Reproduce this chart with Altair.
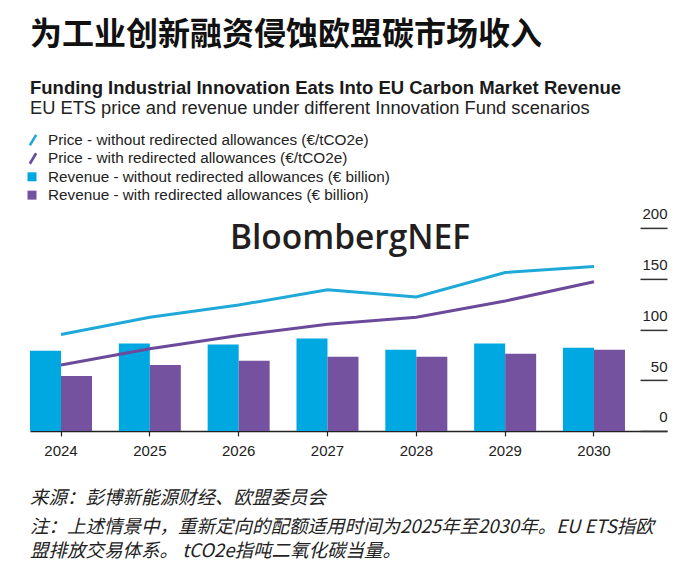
import altair as alt
import pandas as pd

years = ["2024", "2025", "2026", "2027", "2028", "2029", "2030"]
price_without = [95, 112, 124, 139, 132, 156, 162]
price_with = [65, 81, 94, 105, 112, 128, 147]
revenue_without = [79, 86, 85, 91, 80, 86, 82]
revenue_with = [54, 65, 69, 73, 73, 76, 80]

series_names = [
    "Price - without redirected allowances (€/tCO2e)",
    "Price - with redirected allowances (€/tCO2e)",
    "Revenue - without redirected allowances (€ billion)",
    "Revenue - with redirected allowances (€ billion)",
]
series_kinds = ["price", "price", "revenue", "revenue"]
series_colors = ["#1fa9d8", "#6b4a9b", "#00a8e1", "#7452a0"]
y_ticks = [0, 50, 100, 150, 200]

title_zh = "为工业创新融资侵蚀欧盟碳市场收入"
title_en = "Funding Industrial Innovation Eats Into EU Carbon Market Revenue"
subtitle_en = "EU ETS price and revenue under different Innovation Fund scenarios"
source_text = "来源：彭博新能源财经、欧盟委员会"
note_line1 = "注：上述情景中，重新定向的配额适用时间为2025年至2030年。EU ETS指欧"
note_line2 = "盟排放交易体系。 tCO2e指吨二氧化碳当量。"
logo_text = "BloombergNEF"

EN = "Liberation Sans"
ZH = "Noto Sans CJK SC"

rows = []
for name, kind, vals in zip(series_names, series_kinds,
                            [price_without, price_with, revenue_without, revenue_with]):
    for y, v in zip(years, vals):
        rows.append({"year": y, "series": name, "kind": kind, "value": v})
df = pd.DataFrame(rows)

color_scale = alt.Scale(domain=series_names, range=series_colors)
W, H = 637, 203

x_enc = alt.X(
    "year:N",
    sort=years,
    scale=alt.Scale(paddingInner=0.302, paddingOuter=0.2365, align=0),
    axis=alt.Axis(
        title=None, labelAngle=0, labelFont=EN, labelFontSize=15, labelColor="#222222",
        labelPadding=8, tickSize=5, tickColor="#222222", tickWidth=1.2,
        domainColor="#222222", domainWidth=1.5,
    ),
)
y_enc = alt.Y(
    "value:Q",
    scale=alt.Scale(domain=[0, 200], nice=False),
    axis=alt.Axis(
        title=None, orient="right", offset=-27, tickSize=27, values=y_ticks,
        domain=False, grid=False, labelAlign="right", labelBaseline="alphabetic",
        labelOffset=-9, labelPadding=0, labelFont=EN, labelFontSize=15,
        labelColor="#222222", tickColor="#333333", tickWidth=1.5, labelFlush=False,
    ),
)

base = alt.Chart(df)
bars = base.transform_filter(alt.datum.kind == "revenue").mark_bar(size=31).encode(
    x=x_enc,
    xOffset=alt.XOffset("series:N", sort=series_names[2:],
                        scale=alt.Scale(paddingInner=0, paddingOuter=0)),
    y=y_enc,
    color=alt.Color("series:N", scale=color_scale, legend=None),
)
lines = base.transform_filter(alt.datum.kind == "price").mark_line(strokeWidth=3).encode(
    x=x_enc,
    y=y_enc,
    color=alt.Color("series:N", scale=color_scale, legend=None),
)
logo = alt.Chart(pd.DataFrame({"t": [logo_text]})).mark_text(
    font="Open Sans", fontSize=33.5, fontWeight=600, color="#231f20",
    align="center", baseline="alphabetic",
).encode(text="t:N", x=alt.value(320), y=alt.value(21))

main = alt.layer(bars, lines, logo).properties(width=W, height=H)

# legend panel
leg_df = pd.DataFrame({"label": series_names, "kind": series_kinds, "color": series_colors})
leg_y = alt.Y("label:N", sort=series_names, axis=None,
              scale=alt.Scale(type="point", padding=0.5))
leg_base = alt.Chart(leg_df)
leg_slash = leg_base.transform_filter(alt.datum.kind == "price").mark_point(
    shape="M-0.6,1L0.6,-1", size=110, strokeWidth=2.6, filled=False, opacity=1,
).encode(y=leg_y, x=alt.value(3), stroke=alt.Stroke("color:N", scale=None))
leg_sq = leg_base.transform_filter(alt.datum.kind == "revenue").mark_point(
    shape="square", size=81, filled=True, opacity=1,
).encode(y=leg_y, x=alt.value(2), fill=alt.Fill("color:N", scale=None))
leg_text = leg_base.mark_text(
    align="left", baseline="middle", font=EN, fontSize=15.3, color="#222222",
).encode(y=leg_y, x=alt.value(18), text="label:N")
legend_panel = alt.layer(leg_slash, leg_sq, leg_text).properties(
    width=W, height=73.3,
    title=alt.Title(
        text=title_en, subtitle=subtitle_en, anchor="start", frame="group", font=EN,
        fontSize=18.5, fontWeight="bold", color="#1a1a1a", subtitleFont=EN,
        subtitleFontSize=18.3, subtitleColor="#222222", subtitlePadding=3, offset=12,
    ),
)

# footer panel
foot_style = dict(align="left", baseline="middle", font=ZH, fontSize=18.5,
                  fontStyle="italic", color="#222222")
foot_src = alt.Chart(pd.DataFrame({"t": [source_text]})).mark_text(**foot_style).encode(
    text="t:N", x=alt.value(0), y=alt.value(44))
foot_n1 = alt.Chart(pd.DataFrame({"t": [note_line1]})).mark_text(**foot_style).encode(
    text="t:N", x=alt.value(0), y=alt.value(73))
foot_n2 = alt.Chart(pd.DataFrame({"t": [note_line2]})).mark_text(**foot_style).encode(
    text="t:N", x=alt.value(0), y=alt.value(97))
footer_panel = alt.layer(foot_src, foot_n1, foot_n2).properties(width=W, height=105)

chart = alt.vconcat(legend_panel, main, footer_panel, spacing=22.9, bounds="flush").properties(
    title=alt.Title(text=title_zh, anchor="start", frame="group", font=ZH, fontSize=32,
                    fontWeight="bold", color="#111111", offset=27),
    padding={"left": 16, "top": 10, "right": 5, "bottom": 5},
).configure_view(stroke=None)

chart.save("out.html", embed_options={"renderer": "svg", "actions": False})
